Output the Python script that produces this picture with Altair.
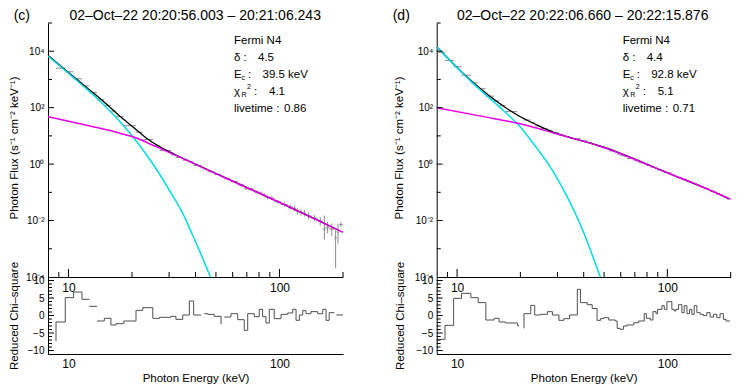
import altair as alt
import pandas as pd

FONT = "Liberation Sans"
GRAY = "#8c8c8c"
CYAN = "#00dce6"
MAGENTA = "#e800e8"
RESCOL = "#505050"

W_L, W_R, H_TOP, H_RES = 295, 294, 254, 77
E_DOMAIN = [8, 200]
F_DOMAIN = [1e-4, 1e5]
R_DOMAIN = [-11, 11]

# ---------------- axis tick values
x_label_values = [10, 100]
x_major_ticks = [10, 100]
x_minor_ticks = [9, 20, 30, 40, 50, 60, 70, 80, 90, 200]
y_label_values = [1e4, 1e2, 1, 1e-2, 1e-4]
y_major_ticks = [1e4, 1e2, 1, 1e-2]
y_minor_ticks = [1e5, 1e3, 10, 0.1, 1e-3]
r_label_values = [-10, -5, 0, 5, 10]
r_major_ticks = [-10, -5, 0, 5, 10]
r_minor_ticks = [-9, -8, -7, -6, -4, -3, -2, -1, 1, 2, 3, 4, 6, 7, 8, 9]

# ================= panel (c) =================
c_label = "(c)"
c_title = "02–Oct–22 20:20:56.003 – 20:21:06.243"
c_delta, c_ec, c_chi, c_live = "4.5", "39.5 keV", "4.1", "0.86"

c_th_E = [8.0, 11.45, 14.3, 18.3, 20.5, 23.7, 25.0, 30.0, 35.0, 39.2, 41.4, 46.2, 47.6]
c_th_logF = [3.83, 2.84, 2.19, 1.35, 0.91, 0.28, 0.03, -0.91, -1.78, -2.60, -3.0, -3.85, -4.08]

c_nt_E = [8.0, 12.8, 16.5, 20.5, 26.0, 34.1, 58.9, 113.4, 200.0]
c_nt_logF = [1.68, 1.34, 1.15, 0.95, 0.62, 0.23, -0.58, -1.54, -2.42]

c_mod_E = [8.0, 10.0, 12.0, 14.3, 16.8, 18.5, 20.5, 23.7, 27.5, 31.8, 40.0, 60.0, 100.0, 150.0, 190.0]
c_mod_logF = [3.86, 3.25, 2.76, 2.29, 1.82, 1.55, 1.28, 0.89, 0.59, 0.35, 0.0, -0.60, -1.36, -1.97, -2.34]

c_dat_lo = [8.73, 9.66, 10.58, 11.59, 12.56, 13.66, 14.79, 15.9, 16.8, 18.3, 20.9, 22.5, 25.1, 27.0,
            30.6, 32.3, 34.8, 37.4, 39.2, 44.0, 45.7, 49.1, 54.8, 58.9, 63.4, 68.1, 70.7, 76.0,
            80.2, 83.2, 86.3, 89.5, 94.4, 101.7, 109.4, 115.6, 119.8, 124.2, 128.8, 133.6, 141.0,
            151.8, 160.3, 166.2, 172.0, 182.0, 187.0, 192.0]
c_dat_hi = [9.66, 10.58, 11.59, 12.56, 13.66, 14.79, 15.9, 16.8, 18.3, 20.9, 22.5, 25.1, 27.0, 30.6,
            32.3, 34.8, 37.4, 39.2, 42.5, 45.7, 49.1, 52.9, 58.9, 63.4, 68.1, 70.7, 76.0, 80.2,
            83.2, 86.3, 89.5, 94.4, 101.7, 109.4, 115.6, 119.8, 124.2, 128.8, 133.6, 141.0, 151.8,
            160.3, 166.2, 172.0, 182.0, 187.0, 192.0, 199.0]
c_dat_logF = [3.40, 3.27, 3.02, 2.77, 2.54, 2.28, 2.08, 1.88, 1.68, 1.36, 1.13, 0.87, 0.65, 0.48,
              0.33, 0.24, 0.14, 0.08, -0.05, -0.18, -0.27, -0.37, -0.52, -0.62, -0.74, -0.86, -0.88,
              -0.99, -1.03, -1.10, -1.18, -1.20, -1.33, -1.43, -1.52, -1.57, -1.68, -1.71, -1.74,
              -1.83, -1.91, -2.02, -2.30, -2.25, -2.30, -2.61, -2.41, -2.14]
c_dat_elo = [0.01] * 14 + [0.02] * 8 + [0.04, 0.04, 0.05, 0.06, 0.05, 0.05, 0.06, 0.06, 0.07, 0.07, 0.06] + \
            [0.08, 0.09, 0.10, 0.11, 0.11, 0.12, 0.12, 0.11, 0.15, 0.38, 0.20, 0.25, 1.08, 0.41, 0.09]
c_dat_ehi = [0.01] * 14 + [0.02] * 8 + [0.04, 0.04, 0.05, 0.06, 0.05, 0.05, 0.06, 0.06, 0.07, 0.07, 0.06] + \
            [0.08, 0.09, 0.10, 0.11, 0.11, 0.12, 0.12, 0.11, 0.15, 0.48, 0.20, 0.20, 0.26, 0.30, 0.09]

c_res_lo = [8.73, 8.73, 9.66, 10.58, 11.59, 12.56, 13.66, 14.79, 15.9, 16.8, 18.3, 20.9, 22.5, 25.1,
            27.0, 30.6, 32.3, 34.8, 37.4, 39.2, 44.0, 45.7, 49.1, 52.9, 54.8, 58.9, 63.4, 68.1,
            70.7, 76.0, 80.2, 83.2, 86.3, 89.5, 94.4, 101.7, 109.4, 115.6, 119.8, 124.2, 128.8,
            133.6, 141.0, 151.8, 160.3, 166.2, 172.0, 186.0]
c_res_hi = [8.73, 9.66, 10.58, 11.59, 12.56, 13.66, 14.79, 15.9, 16.8, 18.3, 20.9, 22.5, 25.1, 27.0,
            30.6, 32.3, 34.8, 37.4, 39.2, 42.5, 45.7, 49.1, 52.9, 52.9, 58.9, 63.4, 68.1, 70.7,
            76.0, 80.2, 83.2, 86.3, 89.5, 94.4, 101.7, 109.4, 115.6, 119.8, 124.2, 128.8, 133.6,
            141.0, 151.8, 160.3, 166.2, 172.0, 182.0, 200.0]
c_res_val = [-7.3, -1.86, 5.1, 6.71, 4.62, 2.62, -1.57, -0.81, -2.71, -2.33, -1.57, 1.48, 2.24, -0.81,
             -0.52, -0.24, -1.1, 0.14, 4.14, 0.14, 0.52, 0.33, -0.24, -2.5, -0.43, 0.52, -1.19, -4.24,
             0.52, -0.33, 1.76, -0.33, -2.14, 1.76, -0.9, 0.33, 0.71, 1.76, -1.38, 0.14, 1.38,
             0.52, 1.1, 0.52, 1.76, -1.38, 0.81, 0.14]
c_res_seg = [0, 0, 0, 0, 0, 1, 2, 2, 2, 2, 2, 2, 2, 2,
             2, 2, 2, 2, 2, 2, 3, 3, 3, 3, 4, 4, 4, 4,
             4, 4, 4, 4, 4, 4, 4, 4, 4, 4, 4, 4, 4,
             4, 4, 4, 4, 4, 4, 5]

# ================= panel (d) =================
d_label = "(d)"
d_title = "02–Oct–22 20:22:06.660 – 20:22:15.876"
d_delta, d_ec, d_chi, d_live = "4.4", "92.8 keV", "5.1", "0.71"

d_th_E = [8.0, 11.6, 16.7, 19.4, 24.1, 26.9, 30.0, 33.4, 38.6, 42.3, 47.2, 48.5]
d_th_logF = [4.15, 2.94, 1.88, 1.42, 0.54, 0.05, -0.52, -1.16, -2.15, -2.89, -3.86, -4.10]

d_nt_E = [8.0, 13.0, 19.7, 29.9, 49.8, 103.0, 148.0, 200.0]
d_nt_logF = [2.0, 1.70, 1.44, 1.07, 0.59, -0.35, -0.82, -1.25]

d_mod_E = [8.0, 11.6, 16.7, 20.1, 24.1, 29.9, 35.0, 49.8, 103.0, 148.0, 195.0]
d_mod_logF = [4.16, 2.97, 2.04, 1.67, 1.38, 1.08, 0.93, 0.60, -0.35, -0.82, -1.21]

d_dat_lo = [8.0, 8.76, 9.63, 10.5, 11.63, 12.6, 13.7, 15.0, 15.83, 17.0, 19.36, 20.8, 22.4, 23.4,
            24.95, 26.9, 28.4, 30.5, 32.2, 34.3, 37.3, 38.6, 41.6, 43.9, 46.3, 48.1, 49.8, 52.6,
            56.6, 57.7, 59.7, 61.9, 64.3, 69.2, 73.0, 77.6, 79.4, 83.0, 85.4, 88.3, 89.8, 94.2,
            96.6, 99.5, 105.0, 107.7, 109.7, 113.0, 117.2, 120.2, 123.9, 127.4, 130.7, 134.1,
            138.1, 143.2, 148.4, 153.9, 159.6, 165.5, 171.7, 178.0, 184.6, 190.2]
d_dat_hi = [8.76, 9.63, 10.5, 11.63, 12.6, 13.7, 15.0, 15.83, 17.0, 19.36, 19.7, 22.4, 23.4, 24.95,
            26.9, 28.4, 30.5, 32.2, 34.3, 37.3, 38.6, 41.6, 43.9, 46.3, 48.1, 49.8, 52.6, 56.6,
            57.7, 59.7, 61.9, 64.3, 69.2, 73.0, 77.6, 79.4, 83.0, 85.4, 88.3, 89.8, 94.2, 96.6,
            99.5, 105.0, 107.7, 109.7, 113.0, 117.2, 120.2, 123.9, 127.4, 130.7, 134.1, 138.1,
            143.2, 148.4, 153.9, 159.6, 165.5, 171.7, 178.0, 184.6, 190.2, 198.6]
d_dat_logF = [3.95, 3.67, 3.45, 3.15, 2.88, 2.67, 2.41, 2.24, 2.07, 1.86, 1.71, 1.56, 1.47, 1.35,
              1.26, 1.20, 1.11, 1.03, 0.98, 0.91, 0.90, 0.82, 0.76, 0.70, 0.64, 0.61, 0.56, 0.47,
              0.41, 0.36, 0.31, 0.27, 0.20, 0.12, 0.05, 0.01, -0.05, -0.10, -0.12, -0.16, -0.20,
              -0.23, -0.28, -0.31, -0.38, -0.41, -0.44, -0.47, -0.53, -0.54, -0.60, -0.63, -0.67,
              -0.69, -0.75, -0.80, -0.85, -0.89, -0.96, -1.00, -1.06, -1.10, -1.17, -1.23]
d_dat_err = [0.01] * 26 + [0.015] * 17 + [0.025] * 21

d_res_lo = [8.0, 8.76, 9.63, 10.5, 11.63, 12.6, 13.7, 15.0, 15.83, 17.0, 19.36, 20.8, 20.8, 22.4,
            23.4, 24.95, 26.9, 28.4, 30.5, 32.2, 34.3, 37.3, 38.6, 41.6, 43.9, 46.3, 48.1, 49.8,
            52.6, 56.6, 57.7, 59.7, 61.9, 64.3, 69.2, 73.0, 77.6, 79.4, 83.0, 85.4, 88.3, 89.8,
            94.2, 96.6, 99.5, 105.0, 107.7, 109.7, 113.0, 117.2, 120.2, 123.9, 127.4, 130.7,
            134.1, 138.1, 143.2, 148.4, 153.9, 159.6, 165.5, 171.7, 178.0, 184.6, 190.2]
d_res_hi = [8.76, 9.63, 10.5, 11.63, 12.6, 13.7, 15.0, 15.83, 17.0, 19.36, 19.7, 20.8, 22.4, 23.4,
            24.95, 26.9, 28.4, 30.5, 32.2, 34.3, 37.3, 38.6, 41.6, 43.9, 46.3, 48.1, 49.8, 52.6,
            56.6, 57.7, 59.7, 61.9, 64.3, 69.2, 73.0, 77.6, 79.4, 83.0, 85.4, 88.3, 89.8, 94.2,
            96.6, 99.5, 105.0, 107.7, 109.7, 113.0, 117.2, 120.2, 123.9, 127.4, 130.7, 134.1,
            138.1, 143.2, 148.4, 153.9, 159.6, 165.5, 171.7, 178.0, 184.6, 190.2, 198.6]
d_res_val = [-6.81, -2.81, 4.9, 6.33, 5.1, 3.67, -1.29, -0.81, -1.86, -2.14, -2.9, -3.67, 0.52, 2.9,
             0.14, 0.33, 1.1, 0.14, -1.38, -0.9, 0.14, 7.48, 3.67, 3.1, 2.0, -1.38, -0.9, -0.62,
             -1.29, -1.57, -3.67, -3.95, -3.0, -2.71, -2.05, -1.57, 0.52, -0.81, -1.29, 1.1, 0.52,
             1.76, 2.81, 1.76, 3.95, 1.76, 1.29, 1.76, 3.1, 0.81, 2.81, 0.52, 1.76, 0.33, 2.81,
             0.81, 0.33, -0.05, 0.81, -0.43, 0.33, -0.62, 0.52, -1.1, -1.57]
d_res_seg = [0] * 11 + [1] * 54

ONE = pd.DataFrame({"k": [0]})


def xscale():
    return alt.Scale(type="log", domain=E_DOMAIN, nice=False)


def top_axes(title_x):
    xax = alt.Axis(values=x_label_values, labelExpr="datum.value > 50 ? '100' : '10'",
                   ticks=False, grid=False, domain=True, domainColor="black", title=None,
                   labelFont=FONT, labelFontSize=12, labelColor="black", labelPadding=5,
                   labelFlush=False, labelOverlap=False)
    yax = alt.Axis(values=y_label_values,
                   labelExpr="datum.value > 1000 ? '10⁴' : datum.value > 10 ? '10²' : datum.value > 0.1 ? '10⁰' : datum.value > 0.001 ? '10⁻²' : '10⁻⁴'",
                   ticks=False, grid=False, domain=True, domainColor="black",
                   title="Photon Flux (s⁻¹ cm⁻² keV⁻¹)", titleFont=FONT, titleFontSize=11.5,
                   titleFontWeight="normal", titleColor="black", titleX=title_x, titleY=124.5,
                   titleBaseline="top", titleAlign="center",
                   labelFont=FONT, labelFontSize=10, labelPadding=4, labelColor="black",
                   labelOverlap=False)
    return xax, yax


def txt(s, x, y, size=11.5, align="left"):
    return alt.Chart(ONE).mark_text(align=align, baseline="middle", fontSize=size, font=FONT,
                                    color="black").encode(
        x=alt.value(x), y=alt.value(y), text=alt.value(s))


def top_chart(width, title_x, lab, lab_x, title, title_cx, vals,
              th_E, th_logF, nt_E, nt_logF, mod_E, mod_logF,
              lo, hi, logF, elo, ehi):
    xax, yax = top_axes(title_x)
    ys = alt.Scale(type="log", domain=F_DOMAIN, nice=False)

    def X(f):
        return alt.X(f, type="quantitative", scale=xscale(), axis=xax)

    def Y(f):
        return alt.Y(f, type="quantitative", scale=ys, axis=yax)

    dat = pd.DataFrame({
        "lo": lo, "hi": hi,
        "c": [(a * b) ** 0.5 for a, b in zip(lo, hi)],
        "F": [10 ** v for v in logF],
        "Flo": [10 ** (v - e) for v, e in zip(logF, elo)],
        "Fhi": [10 ** (v + e) for v, e in zip(logF, ehi)],
    })
    th = pd.DataFrame({"E": th_E, "F": [10 ** v for v in th_logF]})
    nt = pd.DataFrame({"E": nt_E, "F": [10 ** v for v in nt_logF]})
    mod = pd.DataFrame({"E": mod_E, "F": [10 ** v for v in mod_logF]})

    layers = [
        alt.Chart(dat).mark_rule(color=GRAY, strokeWidth=1).encode(x=X("lo"), x2="hi", y=Y("F")),
        alt.Chart(dat).mark_rule(color=GRAY, strokeWidth=1, clip=True).encode(x=X("c"), y=Y("Flo"), y2="Fhi"),
        alt.Chart(mod).mark_line(color="black", strokeWidth=1.3, interpolate="monotone", clip=True).encode(x=X("E"), y=Y("F")),
        alt.Chart(th).mark_line(color=CYAN, strokeWidth=1.5, interpolate="monotone", clip=True).encode(x=X("E"), y=Y("F")),
        alt.Chart(nt).mark_line(color=MAGENTA, strokeWidth=1.5, interpolate="monotone", clip=True).encode(x=X("E"), y=Y("F")),
        alt.Chart(pd.DataFrame({"E": x_major_ticks})).mark_rule(color="black").encode(
            x=X("E"), y=alt.value(H_TOP), y2=alt.value(H_TOP - 8)),
        alt.Chart(pd.DataFrame({"E": x_minor_ticks})).mark_rule(color="black").encode(
            x=X("E"), y=alt.value(H_TOP), y2=alt.value(H_TOP - 5)),
        alt.Chart(pd.DataFrame({"F": y_major_ticks})).mark_rule(color="black").encode(
            y=Y("F"), x=alt.value(0), x2=alt.value(6)),
        alt.Chart(pd.DataFrame({"F": y_minor_ticks})).mark_rule(color="black").encode(
            y=Y("F"), x=alt.value(0), x2=alt.value(4)),
        txt(lab, lab_x, -7.5, size=14),
        txt(title, title_cx, -7.5, size=14, align="center"),
        txt("Fermi N4", 186, 18),
        txt("δ :", 186, 35),
        txt(vals[0], 210, 35),
        txt("E", 186, 52),
        txt("c", 193.5, 55, size=7),
        txt(":", 200, 52),
        txt(vals[1], 214.5, 52),
        txt("χ", 186, 69),
        txt("R", 193.5, 72, size=7),
        txt("2", 199, 64, size=7),
        txt(":", 206, 69),
        txt(vals[2], 221, 69),
        txt("livetime :", 186, 86),
        txt(vals[3], 236, 86),
    ]
    return alt.layer(*layers).properties(width=width, height=H_TOP)


def res_chart(width, title_x, lo, hi, val, seg):
    xax = alt.Axis(values=x_label_values, labelExpr="datum.value > 50 ? '100' : '10'",
                   ticks=False, grid=False, domain=True, domainColor="black",
                   title="Photon Energy (keV)", titleFont=FONT, titleFontSize=11.5,
                   titleFontWeight="normal", titleColor="black", titlePadding=3,
                   labelFont=FONT, labelFontSize=12, labelColor="black", labelPadding=4,
                   labelFlush=False, labelOverlap=False)
    yax = alt.Axis(values=r_label_values, ticks=False, grid=False, domain=True, domainColor="black",
                   title="Reduced Chi–square", titleFont=FONT, titleFontSize=11.5,
                   titleFontWeight="normal", titleColor="black", titleX=title_x, titleY=38.5,
                   titleBaseline="top", titleAlign="center",
                   labelFont=FONT, labelFontSize=10, labelPadding=4, labelColor="black",
                   labelOverlap=False)
    ys = alt.Scale(domain=R_DOMAIN, nice=False, zero=False)

    def X(f):
        return alt.X(f, type="quantitative", scale=xscale(), axis=xax)

    def Y(f):
        return alt.Y(f, type="quantitative", scale=ys, axis=yax)

    rows = []
    for i, (a, b, v, s) in enumerate(zip(lo, hi, val, seg)):
        rows.append({"E": a, "v": v, "seg": s, "o": 2 * i})
        rows.append({"E": b, "v": v, "seg": s, "o": 2 * i + 1})
    df = pd.DataFrame(rows)
    layers = [
        alt.Chart(df).mark_line(color=RESCOL, strokeWidth=1, clip=True).encode(
            x=X("E"), y=Y("v"), detail="seg:N", order="o:Q"),
        alt.Chart(pd.DataFrame({"v": r_major_ticks})).mark_rule(color="black").encode(
            y=Y("v"), x=alt.value(0), x2=alt.value(6)),
        alt.Chart(pd.DataFrame({"v": r_minor_ticks})).mark_rule(color="black").encode(
            y=Y("v"), x=alt.value(0), x2=alt.value(4)),
    ]
    return alt.layer(*layers).properties(width=width, height=H_RES)


topL = top_chart(W_L, -40, c_label, -34.3, c_title, 147.2,
                 [c_delta, c_ec, c_chi, c_live],
                 c_th_E, c_th_logF, c_nt_E, c_nt_logF, c_mod_E, c_mod_logF,
                 c_dat_lo, c_dat_hi, c_dat_logF, c_dat_elo, c_dat_ehi)
topR = top_chart(W_R, -43, d_label, -44, d_title, 146,
                 [d_delta, d_ec, d_chi, d_live],
                 d_th_E, d_th_logF, d_nt_E, d_nt_logF, d_mod_E, d_mod_logF,
                 d_dat_lo, d_dat_hi, d_dat_logF, d_dat_err, d_dat_err)
resL = res_chart(W_L, -40, c_res_lo, c_res_hi, c_res_val, c_res_seg)
resR = res_chart(W_R, -42, d_res_lo, d_res_hi, d_res_val, d_res_seg)

chart = alt.concat(topL, topR, resL, resR, columns=2,
                   spacing=alt.RowColnumber(row=0, column=93.7), bounds="flush").properties(
    padding={"left": -1, "top": 0, "right": 2, "bottom": 0}
).configure_view(stroke=None)

chart.save("out.html", embed_options={"renderer": "svg", "actions": False})
